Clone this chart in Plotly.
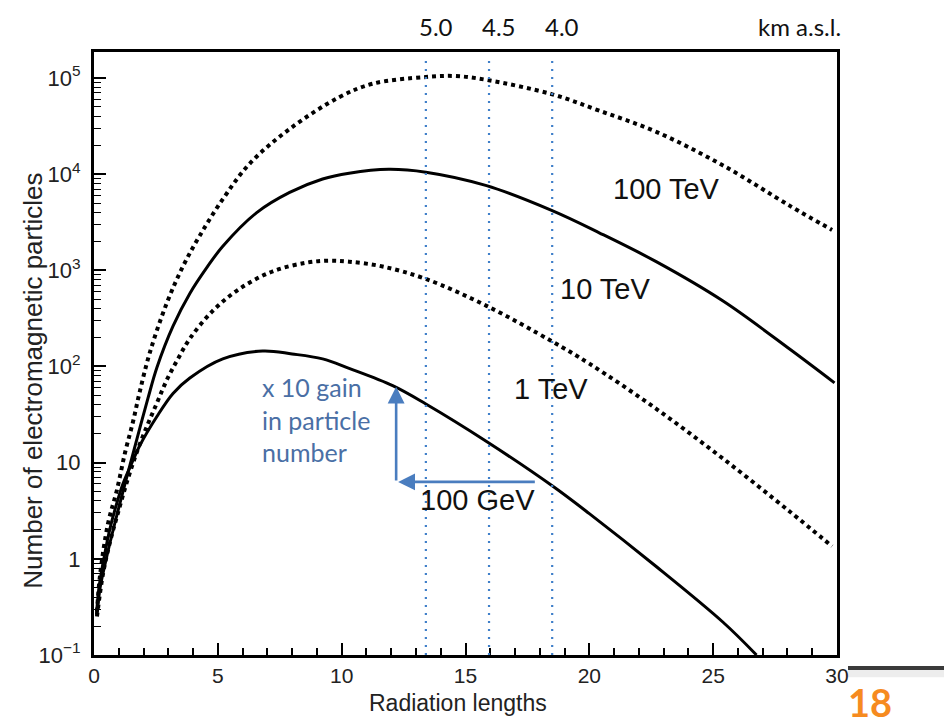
import plotly.graph_objects as go

# Longitudinal profiles of electromagnetic showers (number of particles vs depth)
x_100gev = [0.1, 0.2, 0.44, 0.65, 0.9, 1.17, 1.5, 1.85, 2.54, 3.19, 3.87, 5.2, 6.81, 8.0,
            9.23, 10.3, 12.06, 13.4, 15.85, 18.5, 20.0, 22.7, 25.4, 26.75]
n_100gev = [0.263, 0.50, 1.15, 2.09, 3.63, 6.03, 9.55, 15.1, 30.2, 52.5, 75.9, 120, 145, 135,
            120, 95.5, 63.1, 40.7, 16.6, 5.75, 2.95, 0.832, 0.219, 0.100]

x_1tev = [0.12, 0.36, 0.65, 0.97, 1.33, 1.73, 2.14, 2.54, 2.94, 3.39, 3.87, 4.8, 5.89, 7.22,
          8.59, 9.5, 10.3, 11.65, 13.4, 15.85, 18.5, 20.0, 22.7, 25.4, 28.1, 29.8]
n_1tev = [0.251, 0.692, 1.51, 3.02, 6.31, 12.9, 24.0, 41.7, 72.4, 120, 195, 380, 646, 977,
          1202, 1259, 1230, 1096, 813, 427, 182, 107, 36.3, 11.0, 3.09, 1.35]

x_10tev = [0.12, 0.24, 0.52, 0.85, 1.17, 1.53, 1.85, 2.18, 2.54, 3.19, 3.87, 4.56, 5.2, 6.57,
           7.9, 9.23, 10.3, 11.9, 13.4, 15.85, 18.5, 20.4, 22.7, 25.4, 28.1, 29.9]
n_10tev = [0.257, 0.490, 1.07, 2.40, 5.01, 11.2, 22.9, 46.8, 97.7, 263, 575, 1072, 1778, 3981,
           6457, 8913, 10233, 11220, 10471, 7586, 4169, 2455, 1230, 479, 151, 67.6]

x_100tev = [0.12, 0.24, 0.56, 0.93, 1.25, 1.57, 1.85, 2.26, 2.94, 3.59, 4.27, 5.2, 6.29, 7.9,
            9.9, 11.25, 13.4, 14.6, 15.85, 18.5, 20.4, 22.7, 25.4, 28.1, 29.8]
n_100tev = [0.282, 0.661, 2.29, 5.25, 12.6, 26.3, 55.0, 141, 457, 1096, 2291, 5495, 12882, 29512,
            63096, 87096, 102329, 104713, 95499, 67608, 45709, 27542, 12303, 4677, 2630]

# Depths corresponding to observation altitudes (km a.s.l.)
alt_depths = [13.4, 15.95, 18.5]
alt_labels = ["5.0", "4.5", "4.0"]

y_tickvals = [0.1, 1, 10, 100, 1e3, 1e4, 1e5]
y_ticktext = ["10<sup>\u22121</sup>", "1", "10", "10<sup>2</sup>", "10<sup>3</sup>",
              "10<sup>4</sup>", "10<sup>5</sup>"]
y_minor = [m * 10.0 ** e for e in range(-1, 6) for m in range(2, 10)]

FONT = "Liberation Sans, Arial, sans-serif"
SLIDE_FONT = "Lato, Open Sans, sans-serif"
BLUE_TEXT = "#4a6fa5"
BLUE_ARROW = "#4a7dbf"

fig = go.Figure()

series = [
    (x_100tev, n_100tev, "dot", 4),
    (x_10tev, n_10tev, "solid", 3),
    (x_1tev, n_1tev, "dot", 4),
    (x_100gev, n_100gev, "solid", 3),
]
for xs, ys, dash, w in series:
    fig.add_trace(go.Scatter(
        x=xs, y=ys, mode="lines",
        line=dict(color="black", width=w, dash=dash, shape="spline", smoothing=1.0),
        hoverinfo="skip", showlegend=False,
    ))

# vertical dotted lines at the altitude depths
for d in alt_depths:
    fig.add_shape(type="line", xref="x", yref="paper", x0=d, x1=d, y0=0, y1=0.995,
                  line=dict(color="#3f7fc9", width=2.2, dash="2px,6px"), layer="above")

annotations = []
# altitude labels above the frame
for d, lab in zip(alt_depths, alt_labels):
    annotations.append(dict(x=d + 0.4, xref="x", y=1.043, yref="paper", text=lab,
                            showarrow=False, xanchor="center", yanchor="middle",
                            font=dict(family=SLIDE_FONT, size=24, color="#111")))
annotations.append(dict(x=28.5, xref="x", y=1.043, yref="paper", text="km a.s.l.",
                        showarrow=False, xanchor="center", yanchor="middle",
                        font=dict(family=SLIDE_FONT, size=24, color="#111")))

# curve labels
curve_labels = [("100 TeV", 23.1, 3.85), ("10 TeV", 20.65, 2.81),
                ("1 TeV", 18.47, 1.77), ("100 GeV", 15.48, 0.61)]
for txt, lx, ly in curve_labels:
    annotations.append(dict(x=lx, y=ly, xref="x", yref="y", text=txt, showarrow=False,
                            xanchor="center", yanchor="middle",
                            font=dict(family=FONT, size=29, color="#111")))

# gain arrows
annotations.append(dict(x=12.2, y=1.79, ax=12.2, ay=0.80, xref="x", yref="y",
                        axref="x", ayref="y", text="", showarrow=True, arrowhead=2,
                        arrowsize=1.3, arrowwidth=2.6, arrowcolor=BLUE_ARROW, standoff=0))
annotations.append(dict(x=12.28, y=0.80, ax=17.86, ay=0.80, xref="x", yref="y",
                        axref="x", ayref="y", text="", showarrow=True, arrowhead=2,
                        arrowsize=1.3, arrowwidth=2.6, arrowcolor=BLUE_ARROW, standoff=0))
annotations.append(dict(x=6.69, y=1.45, xref="x", yref="y",
                        text="x 10 gain<br>in particle<br>number", showarrow=False,
                        xanchor="left", yanchor="middle", align="left",
                        font=dict(family=SLIDE_FONT, size=25, color=BLUE_TEXT)))

# axis titles
annotations.append(dict(x=0.49, y=-0.08, xref="paper", yref="paper", text="Radiation lengths",
                        showarrow=False, xanchor="center", yanchor="middle",
                        font=dict(family=FONT, size=23, color="#222")))
annotations.append(dict(x=-0.082, y=0.455, xref="paper", yref="paper",
                        text="Number of electromagnetic particles", textangle=-90,
                        showarrow=False, xanchor="center", yanchor="middle",
                        font=dict(family=FONT, size=26, color="#222")))

# slide page number
annotations.append(dict(x=1.0444, y=-0.078, xref="paper", yref="paper", text="<b>18</b>",
                        showarrow=False, xanchor="center", yanchor="middle",
                        font=dict(family=SLIDE_FONT, size=38, color="#f68b1f")))

fig.add_shape(type="rect", xref="paper", yref="paper", x0=1.0148, x1=1.2, y0=-0.0245,
              y1=-0.037, line=dict(width=0), fillcolor="rgba(0,0,0,0.07)")
fig.add_shape(type="line", xref="paper", yref="paper", x0=1.0148, x1=1.2, y0=-0.0216,
              y1=-0.0216, line=dict(color="#3a3a3a", width=4))

fig.update_layout(
    width=944, height=717,
    margin=dict(l=94, r=107, t=52, b=62),
    paper_bgcolor="white", plot_bgcolor="white",
    annotations=annotations,
    xaxis=dict(range=[0, 30], showgrid=False, zeroline=False, showline=True,
               linecolor="black", linewidth=3, mirror=True,
               ticks="inside", ticklen=12, tickwidth=1.6, tickcolor="black",
               tick0=0, dtick=5,
               minor=dict(ticks="inside", ticklen=7, tickwidth=1.6, dtick=1, tickcolor="black"),
               tickfont=dict(family=FONT, size=21, color="#222")),
    yaxis=dict(type="log", range=[-1, 5.27], showgrid=False, zeroline=False, showline=True,
               linecolor="black", linewidth=3, mirror=True,
               ticks="inside", ticklen=12, tickwidth=1.6, tickcolor="black",
               tickmode="array", tickvals=y_tickvals, ticktext=y_ticktext,
               ticklabelstandoff=6,
               minor=dict(ticks="inside", ticklen=7, tickwidth=1.3, tickmode="array",
                          tickvals=y_minor, tickcolor="black"),
               tickfont=dict(family=FONT, size=22, color="#222")),
)

fig.write_html("out.html")
